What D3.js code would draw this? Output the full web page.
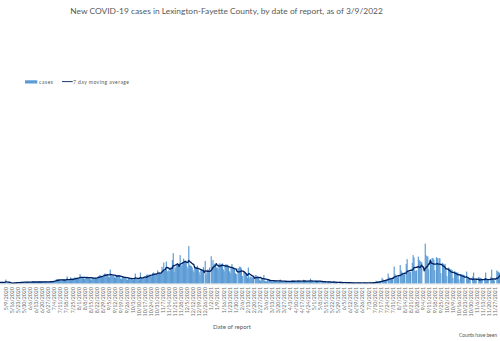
<!DOCTYPE html>
<html><head><meta charset="utf-8">
<script src="https://cdn.jsdelivr.net/npm/d3@7"></script>
<style>body{margin:0;background:#fff}svg{display:block}</style>
</head><body>
<svg id="c" width="500" height="341"></svg>
<script>
const titleText = "New COVID-19 cases in Lexington-Fayette County, by date of report, as of 3/9/2022";
const xAxisTitle = "Date of report";
const noteText = "Counts have been";
const seriesNames = ["cases", "7 day moving average"];
const startDate = "2020-04-25"; // first day of dailyCases (weeks Sat..Fri)
const dailyCases = [
  12, 9, 14, 16, 13, 15, 12,
  10, 8, 14, 18, 12, 15, 14,
  42, 3, 5, 8, 6, 4, 2,
  3, 2, 10, 12, 9, 11, 9,
  8, 6, 14, 16, 15, 17, 15,
  12, 10, 16, 18, 17, 19, 13,
  13, 10, 18, 20, 17, 19, 15,
  14, 11, 17, 19, 18, 20, 13,
  13, 12, 19, 21, 19, 22, 13,
  15, 14, 22, 26, 25, 28, 17,
  28, 24, 40, 46, 42, 45, 34,
  30, 26, 42, 44, 40, 43, 34,
  30, 75, 32, 38, 34, 66, 40,
  42, 38, 60, 66, 58, 62, 59,
  55, 48, 100, 70, 62, 68, 59,
  52, 46, 70, 75, 66, 68, 64,
  45, 40, 62, 66, 60, 58, 61,
  60, 52, 76, 80, 92, 82, 76,
  78, 70, 102, 108, 98, 100, 95,
  72, 65, 148, 92, 86, 82, 85,
  66, 60, 88, 92, 84, 86, 84,
  52, 46, 70, 74, 68, 68, 70,
  44, 38, 58, 60, 56, 58, 57,
  42, 38, 52, 106, 48, 50, 35,
  50, 44, 117, 62, 58, 60, 57,
  70, 62, 92, 96, 90, 92, 93,
  84, 76, 110, 118, 104, 106, 102,
  92, 140, 110, 118, 104, 112, 178,
  150, 223, 140, 150, 233, 130, 130,
  150, 130, 170, 175, 250, 323, 125,
  180, 160, 205, 215, 200, 187, 302,
  200, 185, 230, 265, 240, 236, 240,
  180, 160, 398, 200, 190, 186, 170,
  140, 120, 170, 180, 170, 190, 150,
  120, 90, 145, 150, 140, 174, 0,
  240, 90, 120, 150, 140, 170, 0,
  290, 180, 250, 200, 210, 184, 170,
  170, 150, 210, 215, 205, 207, 215,
  150, 130, 190, 207, 195, 200, 188,
  130, 110, 165, 207, 170, 170, 161,
  110, 100, 0, 160, 165, 180, 174,
  159, 80, 0, 125, 118, 112, 106,
  60, 170, 55, 75, 70, 66, 64,
  55, 0, 85, 90, 80, 72, 66,
  35, 28, 50, 55, 48, 90, 30,
  25, 20, 36, 40, 38, 35, 30,
  22, 18, 30, 34, 32, 32, 28,
  20, 14, 28, 42, 27, 24, 20,
  18, 12, 26, 30, 27, 26, 22,
  18, 13, 28, 32, 28, 27, 22,
  20, 15, 30, 34, 30, 29, 24,
  18, 14, 40, 32, 28, 27, 23,
  20, 15, 28, 52, 25, 23, 19,
  18, 12, 30, 32, 30, 29, 24,
  14, 10, 22, 26, 22, 21, 18,
  10, 8, 18, 22, 20, 18, 16,
  0, 0, 28, 18, 16, 15, 14,
  0, 0, 22, 14, 12, 12, 10,
  0, 0, 18, 12, 10, 9, 7,
  0, 0, 15, 10, 9, 8, 7,
  0, 0, 12, 9, 8, 7, 6,
  0, 0, 13, 9, 8, 6, 6,
  0, 0, 16, 12, 10, 9, 9,
  0, 0, 30, 24, 20, 20, 18,
  20, 0, 60, 45, 37, 33, 29,
  40, 0, 106, 70, 55, 52, 48,
  60, 0, 180, 100, 80, 75, 65,
  80, 0, 196, 140, 120, 110, 96,
  100, 0, 207, 260, 140, 130, 129,
  120, 0, 220, 302, 276, 140, 132,
  140, 0, 286, 250, 240, 230, 226,
  0, 0, 0, 424, 300, 290, 288,
  150, 0, 260, 244, 270, 270, 255,
  140, 0, 280, 270, 223, 270, 266,
  110, 0, 220, 210, 200, 209, 164,
  80, 0, 170, 160, 150, 150, 144,
  60, 0, 130, 125, 120, 115, 115,
  45, 0, 100, 95, 95, 92, 91,
  0, 0, 127, 60, 55, 50, 44,
  0, 0, 75, 117, 45, 40, 38,
  0, 0, 70, 60, 60, 55, 49,
  0, 0, 60, 117, 45, 38, 34,
  0, 0, 70, 148, 45, 40, 33,
  0, 0, 138, 130, 120, 115, 110,
  0, 0, 150, 160, 130, 120, 105
];
const tickLabels = [
  "5/9/2020","5/16/2020","5/23/2020","5/30/2020","6/6/2020","6/13/2020","6/20/2020","6/27/2020",
  "7/4/2020","7/11/2020","7/18/2020","7/25/2020","8/1/2020","8/8/2020","8/15/2020","8/22/2020","8/29/2020",
  "9/5/2020","9/12/2020","9/19/2020","9/26/2020","10/3/2020","10/10/2020","10/17/2020","10/24/2020","10/31/2020",
  "11/7/2020","11/14/2020","11/21/2020","11/28/2020","12/5/2020","12/12/2020","12/19/2020","12/26/2020",
  "1/2/2021","1/9/2021","1/16/2021","1/23/2021","1/30/2021","2/6/2021","2/13/2021","2/20/2021","2/27/2021",
  "3/6/2021","3/13/2021","3/20/2021","3/27/2021","4/3/2021","4/10/2021","4/17/2021","4/24/2021",
  "5/1/2021","5/8/2021","5/15/2021","5/22/2021","5/29/2021","6/5/2021","6/12/2021","6/19/2021","6/26/2021",
  "7/3/2021","7/10/2021","7/17/2021","7/24/2021","7/31/2021","8/7/2021","8/14/2021","8/21/2021","8/28/2021",
  "9/4/2021","9/11/2021","9/18/2021","9/25/2021","10/2/2021","10/9/2021","10/16/2021","10/23/2021","10/30/2021",
  "11/6/2021","11/13/2021","11/20/2021","11/27/2021"
];
const yMax = 2000;

const parseISO = d3.utcParse("%Y-%m-%d");
const parseLabel = d3.utcParse("%m/%d/%Y");
const t0 = parseISO(startDate);
const days = dailyCases.map((v, i) => ({date: d3.utcDay.offset(t0, i), v}));
const ma = [];
for (let i = 6; i < dailyCases.length; i++) {
  ma.push({date: days[i].date, v: d3.mean(dailyCases.slice(i - 6, i + 1))});
}
const tickDates = tickLabels.map(parseLabel);

const svg = d3.select("#c");
const W = 500, H = 341;
const font = "Lato, 'Open Sans', sans-serif";
const grey = "#595959";
const tickGrey = "#6f6f6f";
const barColor = "#5B9BD5";
const lineColor = "#002060";

const x = d3.scaleUtc()
  .domain([tickDates[0], tickDates[tickDates.length - 1]])
  .range([5.7, 495]);
const y = d3.scaleLinear().domain([0, yMax]).range([283.5, 95.5]);
const dayW = x(d3.utcDay.offset(tickDates[0], 1)) - x(tickDates[0]);

const defs = svg.append("defs");
defs.append("clipPath").attr("id", "clip").append("rect")
  .attr("x", 0).attr("y", 0).attr("width", W).attr("height", H);

const plot = svg.append("g").attr("clip-path", "url(#clip)");

// bars
plot.append("g").selectAll("rect").data(days).join("rect")
  .attr("x", d => x(d.date) - dayW / 2)
  .attr("width", dayW + 0.3)
  .attr("y", d => y(d.v))
  .attr("height", d => y(0) - y(d.v))
  .attr("fill", barColor);

// axis
const axis = d3.axisBottom(x).tickValues(tickDates)
  .tickFormat((d, i) => tickLabels[i]).tickSize(0).tickSizeOuter(0);
const ax = svg.append("g").attr("transform", `translate(0,${y(0) + 0.5})`).call(axis);
ax.select(".domain").attr("stroke", "#d9d9d9").attr("stroke-width", 0.8)
  .attr("d", `M0,0H${W}`);
ax.selectAll(".tick text")
  .attr("transform", "rotate(-90)")
  .attr("x", -3).attr("y", 0).attr("dy", "0.35em")
  .style("text-anchor", "end")
  .attr("fill", tickGrey)
  .style("font-family", font).style("font-size", "5.3px");

// moving average line
plot.append("path").datum(ma)
  .attr("fill", "none").attr("stroke", lineColor).attr("stroke-width", 1.3)
  .attr("stroke-linejoin", "round")
  .attr("d", d3.line().x(d => x(d.date)).y(d => y(d.v)));

// title
const title = svg.append("text").attr("x", 226.5).attr("y", 13.6)
  .attr("text-anchor", "middle").attr("fill", grey)
  .style("font-family", font).style("font-size", "8px").text(titleText);
function fit(sel, w) {
  const len = sel.node().getComputedTextLength();
  const fs = parseFloat(sel.style("font-size"));
  sel.style("font-size", (fs * w / len) + "px");
}
fit(title, 313);

// legend
const lg = svg.append("g");
lg.append("rect").attr("x", 25).attr("y", 80.3).attr("width", 12.3).attr("height", 3.2).attr("fill", barColor);
lg.append("text").attr("x", 39).attr("y", 83.5).attr("fill", grey)
  .attr("textLength", 14).attr("lengthAdjust", "spacing")
  .style("font-family", font).style("font-size", "5px").text(seriesNames[0]);
lg.append("line").attr("x1", 62).attr("x2", 72.7).attr("y1", 81.6).attr("y2", 81.6)
  .attr("stroke", lineColor).attr("stroke-width", 0.9);
lg.append("text").attr("x", 73).attr("y", 83.5).attr("fill", grey)
  .attr("textLength", 56).attr("lengthAdjust", "spacing")
  .style("font-family", font).style("font-size", "5px").text(seriesNames[1]);

// x axis title
const xt = svg.append("text").attr("x", 232).attr("y", 328.5).attr("text-anchor", "middle")
  .attr("fill", grey).style("font-family", font).style("font-size", "6.5px").text(xAxisTitle);
fit(xt, 38);

// note
svg.append("text").attr("x", 459).attr("y", 337).attr("fill", grey)
  .attr("textLength", 38).attr("lengthAdjust", "spacing")
  .style("font-family", font).style("font-size", "5px").text(noteText);
</script>
</body></html>
